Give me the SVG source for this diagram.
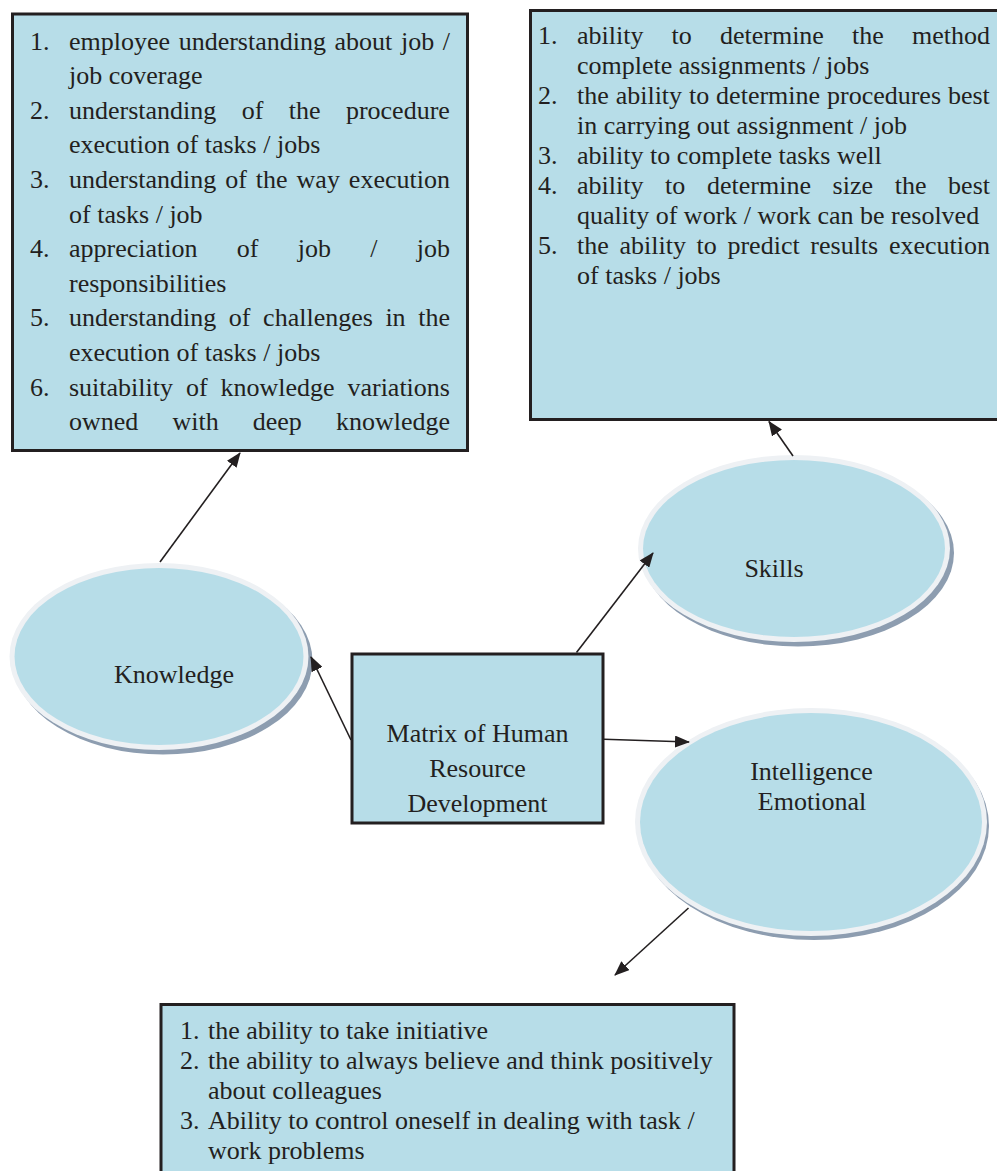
<svg xmlns="http://www.w3.org/2000/svg" width="997" height="1171" viewBox="0 0 997 1171">
<style>
.box{fill:#b7dde8;stroke:#231f20;stroke-width:3}
.t{font-family:"Liberation Serif","Times New Roman",serif;font-size:26px;fill:#231f20}
.c{text-anchor:middle}
.shadow{fill:#8d9db0}
.ring{fill:#eef1f4}
.fill{fill:#b7dde8}
.conn{stroke:#231f20;stroke-width:1.6;fill:none;marker-end:url(#arr)}
</style>
<defs>
<marker id="arr" markerUnits="userSpaceOnUse" markerWidth="15" markerHeight="12" viewBox="0 0 15 12" refX="14" refY="6" orient="auto">
<path d="M0,0 L15,6 L0,12 z" fill="#231f20"/>
</marker>
</defs>
<rect width="997" height="1171" fill="#ffffff"/>

<g id="knowledge-box">
<rect class="box" x="12.5" y="14" width="455" height="436.5"/>
<text class="t" x="30" y="49.5">1.</text>
<text class="t" x="69" y="49.5" word-spacing="2.1">employee understanding about job /</text>
<text class="t" x="69" y="84.1">job coverage</text>
<text class="t" x="30" y="118.7">2.</text>
<text class="t" x="69" y="118.7" word-spacing="18.9">understanding of the procedure</text>
<text class="t" x="69" y="153.3">execution of tasks / jobs</text>
<text class="t" x="30" y="187.9">3.</text>
<text class="t" x="69" y="187.9" word-spacing="2.45">understanding of the way execution</text>
<text class="t" x="69" y="222.5">of tasks / job</text>
<text class="t" x="30" y="257.1">4.</text>
<text class="t" x="69" y="257.1" word-spacing="32.8">appreciation of job / job</text>
<text class="t" x="69" y="291.7">responsibilities</text>
<text class="t" x="30" y="326.3">5.</text>
<text class="t" x="69" y="326.3" word-spacing="6.07">understanding of challenges in the</text>
<text class="t" x="69" y="360.9">execution of tasks / jobs</text>
<text class="t" x="30" y="395.5">6.</text>
<text class="t" x="69" y="395.5" word-spacing="6.4">suitability of knowledge variations</text>
<text class="t" x="69" y="430.1" word-spacing="27.6">owned with deep knowledge</text>
</g>

<g id="skills-box">
<rect class="box" x="530.5" y="10.5" width="480" height="409"/>
<text class="t" x="538" y="44">1.</text>
<text class="t" x="577" y="44" word-spacing="21.65">ability to determine the method</text>
<text class="t" x="577" y="74">complete assignments / jobs</text>
<text class="t" x="538" y="104">2.</text>
<text class="t" x="577" y="104" word-spacing="0.4">the ability to determine procedures best</text>
<text class="t" x="577" y="134">in carrying out assignment / job</text>
<text class="t" x="538" y="164">3.</text>
<text class="t" x="577" y="164">ability to complete tasks well</text>
<text class="t" x="538" y="194">4.</text>
<text class="t" x="577" y="194" word-spacing="15.16">ability to determine size the best</text>
<text class="t" x="577" y="224">quality of work / work can be resolved</text>
<text class="t" x="538" y="254">5.</text>
<text class="t" x="577" y="254" word-spacing="4.18">the ability to predict results execution</text>
<text class="t" x="577" y="284">of tasks / jobs</text>
</g>

<g id="emotional-box">
<rect class="box" x="161" y="1004.5" width="573" height="200"/>
<text class="t" x="180" y="1039">1.</text>
<text class="t" x="208" y="1039">the ability to take initiative</text>
<text class="t" x="180" y="1069">2.</text>
<text class="t" x="208" y="1069">the ability to always believe and think positively</text>
<text class="t" x="208" y="1099">about colleagues</text>
<text class="t" x="180" y="1129">3.</text>
<text class="t" x="208" y="1129">Ability to control oneself in dealing with task /</text>
<text class="t" x="208" y="1159">work problems</text>
</g>

<g id="knowledge">
<ellipse class="shadow" cx="163" cy="661" rx="149.5" ry="93.5"/>
<ellipse class="ring" cx="159" cy="656.5" rx="149.5" ry="93.5"/>
<ellipse class="fill" cx="159" cy="656.5" rx="144.5" ry="88.5"/>
<text class="t c" x="174" y="683">Knowledge</text>
</g>

<g id="skills">
<ellipse class="shadow" cx="798" cy="553" rx="156" ry="93.5"/>
<ellipse class="ring" cx="794" cy="548.5" rx="156" ry="93.5"/>
<ellipse class="fill" cx="794" cy="548.5" rx="151" ry="88.5"/>
<text class="t c" x="774" y="577">Skills</text>
</g>

<g id="emotional">
<ellipse class="shadow" cx="814" cy="826" rx="175" ry="114"/>
<ellipse class="ring" cx="811" cy="822" rx="176" ry="114"/>
<ellipse class="fill" cx="811" cy="822" rx="171" ry="109"/>
<text class="t c" x="811.5" y="780">Intelligence</text>
<text class="t c" x="812" y="810">Emotional</text>
</g>

<g id="matrix">
<rect class="box" x="352" y="654" width="251" height="169"/>
<text class="t c" x="477.5" y="742">Matrix of Human</text>
<text class="t c" x="477.5" y="777">Resource</text>
<text class="t c" x="477.5" y="812">Development</text>
</g>

<g id="connectors">
<line class="conn" x1="160" y1="562" x2="240" y2="453"/>
<line class="conn" x1="351" y1="740" x2="311" y2="657"/>
<line class="conn" x1="576.5" y1="652.5" x2="653" y2="553"/>
<line class="conn" x1="604" y1="739.3" x2="689" y2="742"/>
<line class="conn" x1="793" y1="456" x2="769" y2="421.5"/>
<line class="conn" x1="688.5" y1="908" x2="615" y2="975"/>
</g>
</svg>
